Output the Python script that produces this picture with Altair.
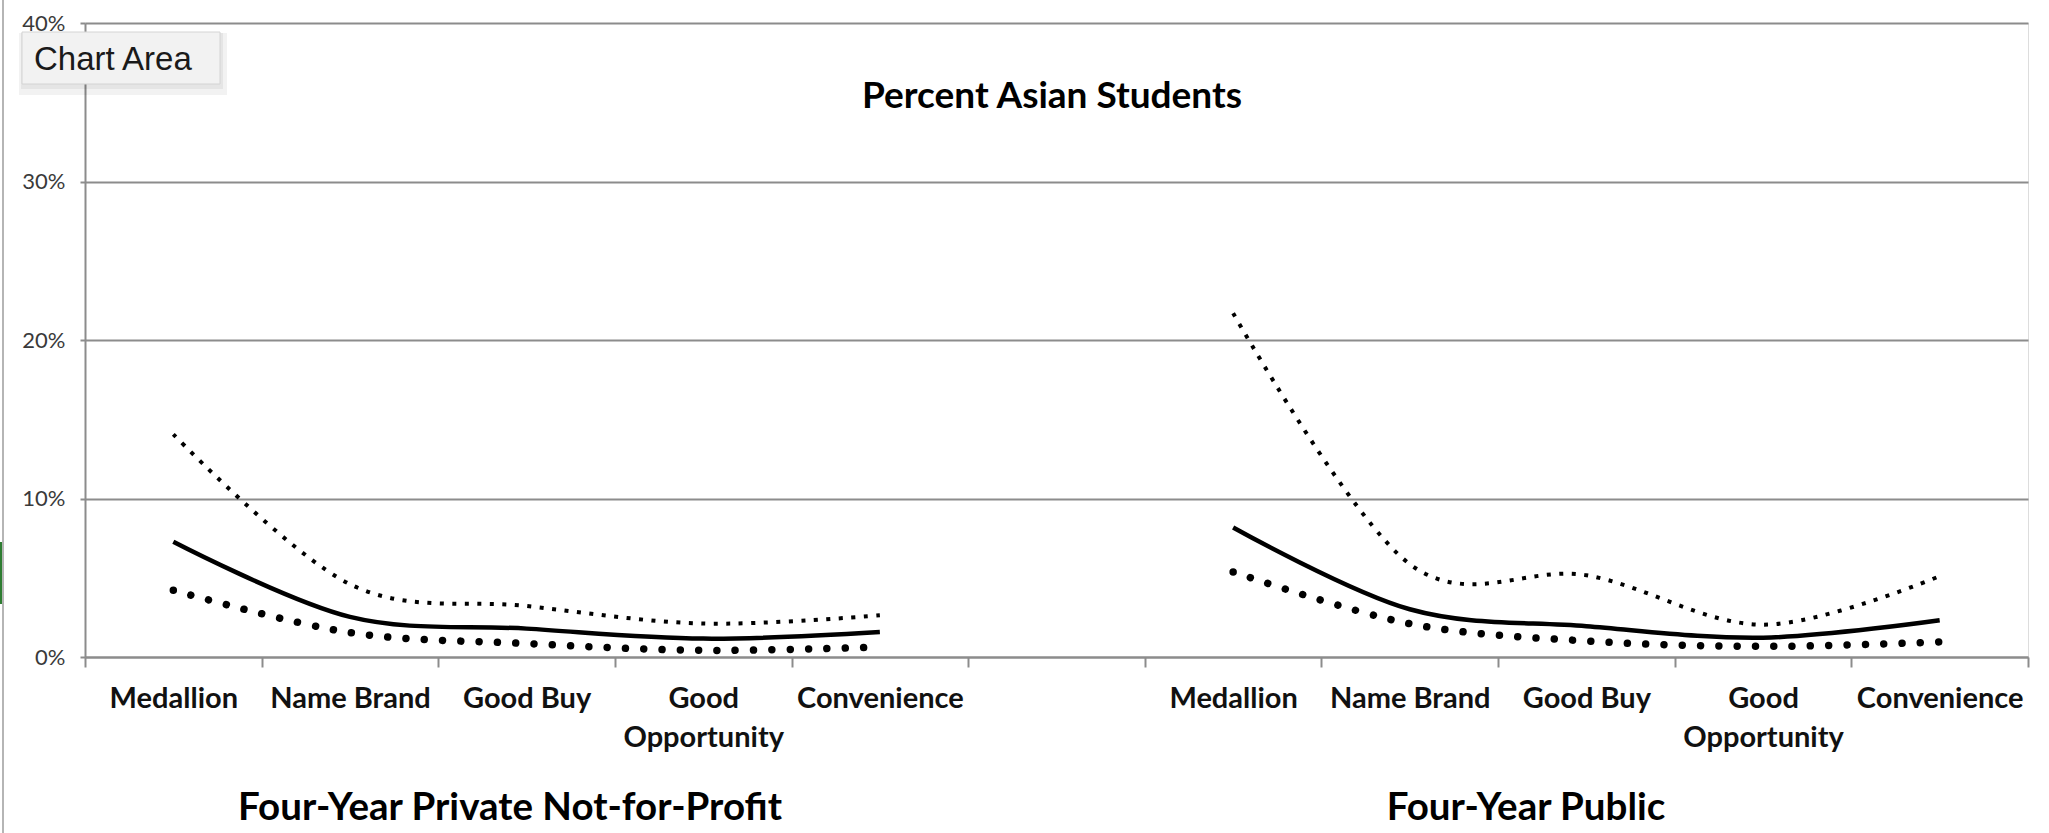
import altair as alt
import pandas as pd

# ---- data -------------------------------------------------------------
slots = ["0:Medallion", "1:Name Brand", "2:Good Buy", "3:Good|Opportunity", "4:Convenience",
         "5:",
         "6:Medallion", "7:Name Brand", "8:Good Buy", "9:Good|Opportunity", "10:Convenience"]
private_slots = slots[0:5]
public_slots = slots[6:11]

private_upper = [14.05, 4.59, 3.22, 2.11, 2.63]
private_mid = [7.27, 2.53, 1.79, 1.16, 1.58]
private_low = [4.21, 1.54, 0.85, 0.42, 0.63]

public_upper = [21.69, 5.86, 5.16, 2.04, 5.10]
public_mid = [8.17, 3.01, 1.94, 1.22, 2.32]
public_low = [5.37, 2.10, 1.01, 0.67, 0.95]

main_title = ["Percent Asian Students"]
group_titles = ["Four-Year Private Not-for-Profit", "Four-Year Public"]
tooltip_text = ["Chart Area"]

rows = []
for grp, sl, series in [
    ("private", private_slots, {"upper": private_upper, "mid": private_mid, "low": private_low}),
    ("public", public_slots, {"upper": public_upper, "mid": public_mid, "low": public_low}),
]:
    for name, vals in series.items():
        for s, v in zip(sl, vals):
            rows.append({"slot": s, "group": grp, "series": name, "value": v / 100.0})
df = pd.DataFrame(rows)

FONT = "Lato"
GRID = "#8c8c8c"

x_enc = alt.X(
    "slot:N",
    scale=alt.Scale(domain=slots, type="band", paddingInner=0, paddingOuter=0),
    sort=slots,
    bandPosition=0.5,
    axis=alt.Axis(
        title=None,
        labelExpr="isString(datum.value) ? split(split(datum.value, ':')[1], '|') : ''",
        labelFont=FONT,
        labelFontWeight="bold",
        labelFontSize=29,
        labelColor="#111111",
        labelAngle=0,
        labelBaseline="alphabetic",
        labelPadding=40,
        labelLineHeight=39,
        labelOverlap=False,
        labelLimit=400,
        tickBand="extent",
        tickSize=10,
        tickColor=GRID,
        tickWidth=2,
        domainColor=GRID,
        domainWidth=2,
        grid=False,
    ),
)
y_enc = alt.Y(
    "value:Q",
    scale=alt.Scale(domain=[0, 0.4], nice=False),
    axis=alt.Axis(
        title=None,
        format=".0%",
        values=[0, 0.1, 0.2, 0.3, 0.4],
        labelFont=FONT,
        labelFontSize=22,
        labelColor="#3a3a3a",
        labelPadding=15,
        tickSize=5,
        tickColor=GRID,
        tickWidth=2,
        domainColor=GRID,
        domainWidth=2,
        grid=True,
        gridColor=GRID,
        gridWidth=2,
    ),
)

base = alt.Chart(df)

upper = base.transform_filter(alt.datum.series == "upper").mark_line(
    interpolate="cardinal", tension=0, color="black", strokeWidth=4,
    strokeDash=[4, 8.5], strokeCap="butt"
).encode(x=x_enc, y=y_enc, detail="group:N")

mid = base.transform_filter(alt.datum.series == "mid").mark_line(
    interpolate="cardinal", tension=0, color="black", strokeWidth=4.5
).encode(x=x_enc, y=y_enc, detail="group:N")

low = base.transform_filter(alt.datum.series == "low").mark_line(
    interpolate="cardinal", tension=0, color="black", strokeWidth=7.5,
    strokeDash=[0.01, 18.3], strokeCap="round"
).encode(x=x_enc, y=y_enc, detail="group:N")

title = alt.Chart(pd.DataFrame({"t": main_title})).mark_text(
    font=FONT, fontWeight="bold", fontSize=37, color="black",
    align="center", baseline="alphabetic"
).encode(text="t:N", x=alt.value(967), y=alt.value(85))

gt_df = pd.DataFrame({"t": group_titles, "px": [425, 1441]})
gtitles = alt.Chart(gt_df).mark_text(
    font=FONT, fontWeight="bold", fontSize=38.5, color="black",
    align="center", baseline="alphabetic"
).encode(text="t:N", x=alt.X("px:Q", scale=None), y=alt.value(797))

# Excel window edge
edge = alt.Chart(pd.DataFrame({"a": [0]})).mark_rule(color="#b5b5b5", strokeWidth=2).encode(
    x=alt.value(-82), y=alt.value(-23), y2=alt.value(810))
green = alt.Chart(pd.DataFrame({"a": [0]})).mark_rule(color="#2e7d32", strokeWidth=2).encode(
    x=alt.value(-84), y=alt.value(519), y2=alt.value(581))

# "Chart Area" tooltip
shadow1 = alt.Chart(pd.DataFrame({"a": [0]})).mark_rect(color="#000000", opacity=0.05).encode(
    x=alt.value(-66), x2=alt.value(142), y=alt.value(10), y2=alt.value(72))
shadow2 = alt.Chart(pd.DataFrame({"a": [0]})).mark_rect(color="#000000", opacity=0.05).encode(
    x=alt.value(-64), x2=alt.value(138), y=alt.value(10), y2=alt.value(66))
box = alt.Chart(pd.DataFrame({"a": [0]})).mark_rect(
    color="#f2f2f2", stroke="#d4d4d4", strokeWidth=1).encode(
    x=alt.value(-63), x2=alt.value(135), y=alt.value(9), y2=alt.value(61))
tip = alt.Chart(pd.DataFrame({"t": tooltip_text})).mark_text(
    font="Liberation Sans", fontSize=33, color="#1a1a1a", align="left", baseline="alphabetic"
).encode(text="t:N", x=alt.value(-51), y=alt.value(47))

chart = alt.layer(
    upper, mid, low, title, gtitles, edge, green, shadow1, shadow2, box, tip
).properties(
    width=1943,
    height=634,
    autosize=alt.AutoSizeParams(type="none"),
    padding={"left": 85, "top": 23, "right": 21, "bottom": 176},
).configure_view(stroke=None).configure(background="white")

chart.save("out.html", embed_options={"renderer": "svg", "actions": False})
